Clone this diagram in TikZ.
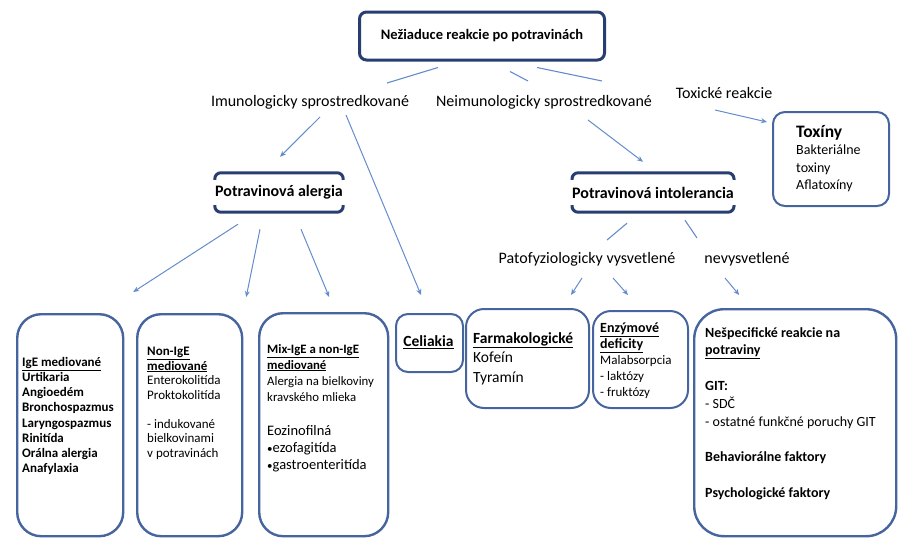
\documentclass[tikz,border=0pt]{standalone}
\usepackage{fontspec}
\setmainfont{Carlito}
\usetikzlibrary{arrows.meta, positioning, calc}
\definecolor{navyDark}{RGB}{40, 62, 112}
\definecolor{boxBlue}{RGB}{70, 100, 158}
\definecolor{arrBlue}{RGB}{100, 140, 205}
\newcommand{\bulletMark}{{\fontsize{11}{11}\selectfont•}}
\tikzset{
  arr/.style={-{Stealth[length=6pt,width=5pt]}, arrBlue, line width=1pt},
  link/.style={arrBlue, line width=1.1pt},
  bigbox/.style={draw=boxBlue, line width=2.4pt, rounded corners=24pt, anchor=north west, inner sep=0pt},
  smallbox/.style={draw=boxBlue, line width=2pt, rounded corners=12pt, anchor=north west, inner sep=0pt},
  bracket/.style={navyDark, line width=3pt, rounded corners=6pt},
  branch/.style={font=\fontsize{16}{19}\selectfont, inner sep=0pt},
  boxtext/.style={align=left, anchor=north west, inner sep=0pt},
}

\begin{document}
\begin{tikzpicture}[x=1pt, y=-1pt]
  \useasboundingbox (0,0) rectangle (899,538);

  \node[draw=navyDark, line width=3pt, rounded corners=7pt, minimum width=245pt, minimum height=48pt, font=\bfseries\fontsize{14.5}{17}\selectfont] (top) at (482,36) {Nežiaduce reakcie po potravinách};

  \node[branch] (imun) at (310,102) {Imunologicky sprostredkované};
  \node[branch] (neimun) at (544,102) {Neimunologicky sprostredkované};
  \node[branch] (toxr) at (724,93) {Toxické reakcie};
  \node[branch] (pato) at (587,259) {Patofyziologicky vysvetlené};
  \node[branch] (nevys) at (747,259) {nevysvetlené};

  % toxins
  \node[smallbox, minimum width=116pt, minimum height=94pt] (toxiny) at (772,111) {};
  \node[boxtext, font=\fontsize{14}{17.5}\selectfont] (toxinyText) at (796,125) {{\bfseries\fontsize{17.5}{17.5}\selectfont Toxíny}\\Bakteriálne\\toxiny\\Aflatoxíny};

  % allergy / intolerance
  \node[minimum width=128pt, minimum height=39pt, inner sep=0pt, font=\bfseries\fontsize{16}{19}\selectfont] (potal) at (279,192.5) {Potravinová alergia};
  \draw[bracket] ([shift={(0,7)}]potal.north west) -- (potal.north west) -- (potal.north east) -- ([shift={(0,7)}]potal.north east);
  \draw[bracket] ([shift={(0,-7)}]potal.south west) -- (potal.south west) -- (potal.south east) -- ([shift={(0,-7)}]potal.south east);

  \node[minimum width=127pt, minimum height=39pt, inner sep=0pt, font=\bfseries\fontsize{16}{19}\selectfont] (potint) at (653,192.5) {Potravinová intolerancia};
  \draw[bracket] ([shift={(0,7)}]potint.north west) -- (potint.north west) -- (potint.north east) -- ([shift={(0,7)}]potint.north east);
  \draw[bracket] ([shift={(0,-7)}]potint.south west) -- (potint.south west) -- (potint.south east) -- ([shift={(0,-7)}]potint.south east);

  % bottom row
  \node[bigbox, minimum width=106pt, minimum height=222pt] (ige) at (16,313) {};
  \node[boxtext, font=\bfseries\fontsize{13}{15.2}\selectfont] (igeText) at (22,357) {\underline{IgE mediované}\\Urtikaria\\Angioedém\\Bronchospazmus\\Laryngospazmus\\Rinitída\\Orálna alergia\\Anafylaxia};

  \node[bigbox, minimum width=105pt, minimum height=222pt] (nonige) at (136,313) {};
  \node[boxtext, font=\fontsize{13}{14.5}\selectfont] (nonigeText) at (147,347) {{\bfseries\underline{Non-IgE}}\\{\bfseries\underline{mediované}}\\Enterokolitída\\Proktokolitída\\[14.5pt]- indukované\\bielkovinami\\v potravinách};

  \node[bigbox, minimum width=129pt, minimum height=223pt] (mix) at (258,312) {};
  \node[boxtext, font=\fontsize{12.8}{16}\selectfont] (mixText) at (267,344) {{\bfseries\underline{Mix-IgE a non-IgE}}\\{\bfseries\underline{mediované}}\\Alergia na bielkoviny\\kravského mlieka};
  \node[boxtext, font=\fontsize{14.5}{17}\selectfont] (mixText2) at (267,425) {Eozinofilná\\\bulletMark ezofagitída\\\bulletMark gastroenteritída};

  \node[smallbox, minimum width=67pt, minimum height=58pt] (celiakia) at (395,313) {};
  \node[font=\bfseries\fontsize{15.5}{18}\selectfont, inner sep=0pt] (celiakiaText) at (428.5,342) {\underline{Celiakia}};

  \node[smallbox, rounded corners=18pt, minimum width=123pt, minimum height=99pt] (farm) at (465,308) {};
  \node[boxtext, font=\fontsize{15.5}{19.5}\selectfont] (farmText) at (473,332) {{\bfseries\underline{Farmakologické}}\\Kofeín\\Tyramín};

  \node[smallbox, rounded corners=18pt, minimum width=95pt, minimum height=97pt] (enz) at (592,310) {};
  \node[boxtext, font=\fontsize{13}{16}\selectfont] (enzText) at (600,323) {{\bfseries\fontsize{14}{16}\selectfont\underline{Enzýmové}}\\{\bfseries\fontsize{14}{16}\selectfont\underline{deficity}}\\Malabsorpcia\\- laktózy\\- fruktózy};

  \node[bigbox, rounded corners=30pt, minimum width=202pt, minimum height=227pt] (nesp) at (693,308) {};
  \node[boxtext, font=\fontsize{14}{17.8}\selectfont] (nespText) at (705,327) {{\bfseries Nešpecifické reakcie na}\\{\bfseries\underline{potraviny}}\\[17.8pt]{\bfseries GIT:}\\- SDČ\\- ostatné funkčné poruchy GIT\\[17.8pt]{\bfseries Behaviorálne faktory}\\[17.8pt]{\bfseries Psychologické faktory}};

  % connectors
  \draw[link] ([shift={(-44,6)}]top.south) -- ([shift={(77,-19)}]imun.center);
  \draw[link] ([shift={(28,10)}]top.south) -- ([shift={(-16,-21)}]neimun.center);
  \draw[link] ([shift={(55,6)}]top.south) -- ([shift={(-122,-12)}]toxr.center);
  \draw[arr] ([shift={(-9,17)}]toxr.center) -- ([shift={(-5,11)}]toxiny.north west);
  \draw[arr] ([shift={(10,15)}]imun.center) -- ([shift={(1,-16)}]potal.north);
  \draw[arr] ([shift={(36,13)}]imun.center) -- ([shift={(-8.5,-18)}]celiakia.north);
  \draw[arr] ([shift={(44,18)}]neimun.center) -- ([shift={(-10,-11)}]potint.north);
  \draw[arr] ([shift={(-41,12)}]potal.south) -- ([shift={(63,-21)}]ige.north);
  \draw[arr] ([shift={(-19,17)}]potal.south) -- ([shift={(56.5,-16)}]nonige.north);
  \draw[arr] ([shift={(22,17)}]potal.south) -- ([shift={(5.5,-15)}]mix.north);
  \draw[link] ([shift={(-26,11)}]potint.south) -- ([shift={(20,-19)}]pato.center);
  \draw[link] ([shift={(32,8)}]potint.south) -- ([shift={(-50,-21)}]nevys.center);
  \draw[arr] ([shift={(-5,19)}]pato.center) -- ([shift={(43.5,-13)}]farm.north);
  \draw[arr] ([shift={(26,19)}]pato.center) -- ([shift={(-12.5,-15)}]enz.north);
  \draw[arr] ([shift={(-22,19)}]nevys.center) -- ([shift={(-56,-13)}]nesp.north);
\end{tikzpicture}
\end{document}
